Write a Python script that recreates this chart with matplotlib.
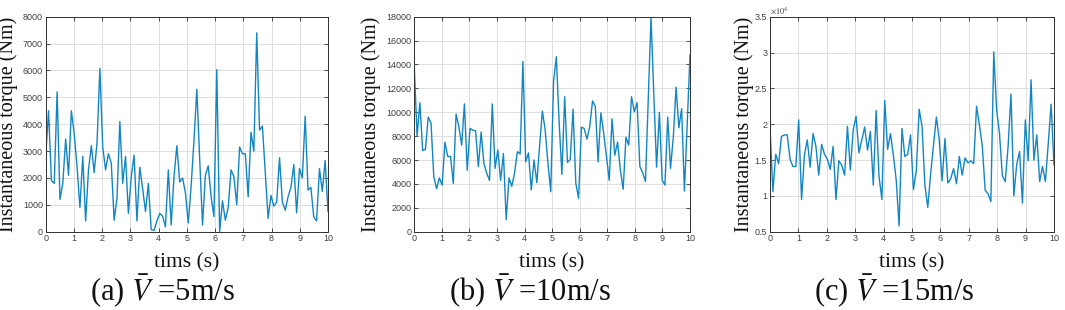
import numpy as np
import matplotlib
matplotlib.use("Agg")
import matplotlib.pyplot as plt
from matplotlib.ticker import FuncFormatter, MultipleLocator

# ---------------- data ----------------
time_s = np.linspace(0, 10, 100)

torque_5 = [2800, 4500, 1900, 1800, 5200, 1200, 1800, 3450, 2100, 4500,
            3650, 2400, 900, 2800, 400, 2300, 3200, 2200, 3300, 6080,
            3150, 2300, 2900, 2550, 430, 1250, 4100, 1800, 2800, 680,
            2050, 2850, 400, 2400, 1600, 750, 1800, 80, 50, 400,
            680, 580, 180, 2300, 250, 2050, 3200, 1850, 2000, 1450,
            330, 1700, 3400, 5300, 2700, 250, 2100, 2450, 1300, 560,
            6030, 0, 1150, 430, 900, 2300, 2050, 1000, 3150, 2900,
            2900, 1300, 3700, 3000, 7400, 3780, 3930, 2200, 500, 1350,
            950, 1100, 2750, 1100, 800, 1300, 1650, 2500, 700, 2350,
            2000, 4300, 1550, 1650, 550, 400, 2350, 1500, 2650, 750]

torque_10 = [13800, 8000, 10800, 6800, 6900, 9600, 9100, 4600, 3600, 4500,
             3900, 7500, 6300, 6300, 4050, 9850, 8800, 7250, 10700, 5150,
             8650, 8500, 8450, 5450, 8350, 5700, 4900, 4300, 10700, 5300,
             6850, 4300, 6550, 1000, 4500, 3800, 4900, 6700, 6500, 14250,
             5850, 6600, 3500, 6000, 4100, 7250, 10100, 8500, 5700, 3350,
             12550, 14650, 9200, 4800, 11300, 5800, 6050, 10250, 4050, 2800,
             8750, 8650, 7750, 8800, 10950, 10500, 5850, 9950, 8250, 6300,
             4300, 9450, 6400, 7500, 5150, 3550, 7900, 7250, 11300, 10050,
             10800, 5450, 4950, 4200, 11000, 18000, 11500, 5400, 10000, 4300,
             3900, 9600, 5300, 7900, 12100, 8700, 10300, 3400, 9000, 14800]

torque_15 = [19650, 10600, 15800, 14500, 18300, 18500, 18500, 15100, 14100, 14100,
             20600, 9500, 15700, 17800, 14000, 18700, 16900, 12900, 17200, 15800,
             15100, 13700, 16900, 9500, 14900, 14300, 12900, 19700, 13600, 19200,
             21100, 16000, 17800, 19600, 16400, 19000, 11500, 21900, 12700, 9500,
             23300, 16500, 18700, 15700, 12200, 5800, 19400, 15500, 15800, 18500,
             10900, 13500, 22100, 19700, 11500, 8400, 13100, 17100, 21000, 17800,
             12100, 18000, 11800, 12400, 13800, 11700, 15500, 12900, 15300, 14600,
             14900, 14500, 22500, 19900, 17000, 10800, 10300, 9200, 30100, 22000,
             18700, 12800, 12000, 16900, 24200, 10000, 14400, 16200, 9000, 20600,
             14900, 26200, 15000, 18500, 12000, 14100, 12000, 17300, 22800, 14300]

captions = ["(a) $\\bar{V}$ =5m/s", "(b) $\\bar{V}$ =10m/s", "(c) $\\bar{V}$ =15m/s"]
xlabel_text = "tims (s)"
ylabel_text = "Instantaneous torque (Nm)"

# ---------------- style ----------------
plt.rcParams['mathtext.fontset'] = 'stix'
serif = ['Liberation Serif', 'DejaVu Serif']
tick_font = ['Liberation Sans', 'DejaVu Sans']
line_color = '#1286c4'
W, H = 1065, 310
fig = plt.figure(figsize=(W / 100, H / 100), dpi=100)

def px_axes(x0, x1, y0, y1):
    return [x0 / W, 1 - y1 / H, (x1 - x0) / W, (y1 - y0) / H]

panels = [
    dict(rect=px_axes(45.7, 328, 16.7, 231.7), data=torque_5, ylim=(0, 8000), ystep=1000,
         ylab_x=-0.098, cap_x=163, fmt=None),
    dict(rect=px_axes(414.3, 690, 16.7, 231.7), data=torque_10, ylim=(0, 18000), ystep=2000,
         ylab_x=-0.122, cap_x=530, fmt=None),
    dict(rect=px_axes(770, 1054, 16.7, 231.7), data=torque_15, ylim=(5000, 35000), ystep=5000,
         ylab_x=-0.055, cap_x=894, fmt='e4'),
]

for i, p in enumerate(panels):
    ax = fig.add_axes(p['rect'])
    ax.plot(time_s, p['data'], color=line_color, lw=1.0)
    ax.set_xlim(0, 10)
    ax.set_ylim(*p['ylim'])
    ax.xaxis.set_major_locator(MultipleLocator(1))
    ax.yaxis.set_major_locator(MultipleLocator(p['ystep']))
    if p['fmt'] == 'e4':
        ax.yaxis.set_major_formatter(FuncFormatter(lambda v, pos: f"{v / 1e4:g}"))
        ax.text(0.0, 1.005, r"$\times10^{4}$", transform=ax.transAxes, fontsize=6,
                color='#404040', ha='left', va='bottom')
    ax.grid(True, color='#dedede', lw=0.7)
    ax.set_axisbelow(True)
    for s in ax.spines.values():
        s.set_color('#303030')
        s.set_linewidth(0.7)
    ax.tick_params(direction='in', length=3, width=0.6, top=True, right=True,
                   colors='#303030', labelsize=6.5, labelcolor='#404040', pad=2)
    for lab in ax.get_xticklabels() + ax.get_yticklabels():
        lab.set_family(tick_font)
    ax.set_ylabel(ylabel_text, family=serif, fontsize=14.5, color='#111111')
    ax.yaxis.set_label_coords(p['ylab_x'], 0.5)
    ax.set_xlabel(xlabel_text, family=serif, fontsize=15.5, color='#111111', labelpad=7)
    fig.text(p['cap_x'] / W, 1 - 291 / H, captions[i], family=serif, fontsize=22,
             ha='center', va='center', color='#111111')

fig.savefig("out.png", dpi=100)
